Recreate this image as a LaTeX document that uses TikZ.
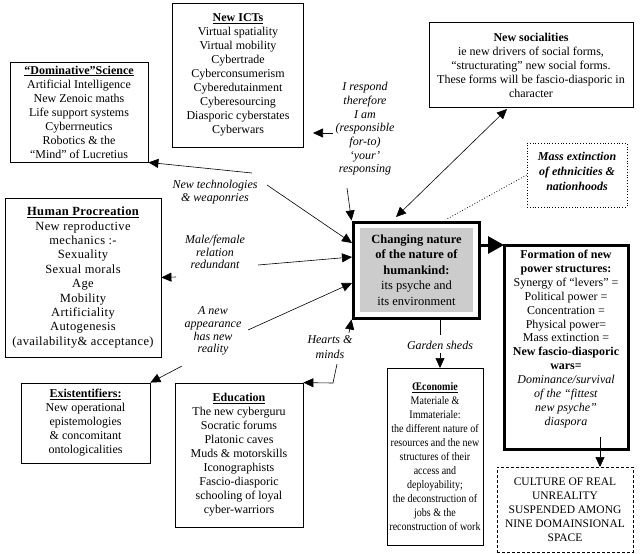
\documentclass[tikz,border=0pt]{standalone}
\usepackage{fontspec}
\setmainfont{Liberation Serif}
\newfontfamily\ecofont[FakeStretch=0.87]{Liberation Serif}
\newfontfamily\procfont[LetterSpace=3]{Liberation Serif}
\usetikzlibrary{arrows.meta}
\definecolor{cgray}{RGB}{204,204,204}
\begin{document}
\begin{tikzpicture}[x=1pt,y=-1pt,
  txt/.style={align=center, inner sep=0pt, font=\fontsize{12}{14}\selectfont},
  bx/.style={txt, draw, line width=0.8pt},
  heavy/.style={draw, line width=3pt, inner sep=0pt},
  lbl/.style={align=center, inner sep=0pt, font=\fontsize{12}{12.5}\selectfont\itshape},
  arr/.style={line width=0.6pt, -{Triangle[length=10pt,width=9pt]}},
  darr/.style={line width=0.6pt, {Triangle[length=10pt,width=9pt]}-{Triangle[length=10pt,width=9pt]}},
  bigarr/.style={line width=3pt, -{Triangle[length=16pt,width=17pt]}},
]
\useasboundingbox (0,0) rectangle (640,554);
\fill[white] (0,0) rectangle (640,554);

% boxes
\node[bx, minimum width=138, minimum height=100] (dom) at (79,112) {\textbf{\underline{“Dominative”Science}}\\Artificial Intelligence\\New Zenoic maths\\Life support systems\\Cyberrneutics\\Robotics \& the\\“Mind” of Lucretius};

\node[bx, minimum width=131, minimum height=144] (ict) at (238,75) {\textbf{\underline{New ICTs}}\\Virtual spatiality\\Virtual mobility\\Cybertrade\\Cyberconsumerism\\Cyberedutainment\\Cyberesourcing\\Diasporic cyberstates\\Cyberwars};

\node[bx, minimum width=204, minimum height=85] (soc) at (531,65) {\textbf{New socialities}\\ie new drivers of social forms,\\“structurating” new social forms.\\These forms will be fascio-diasporic in\\character};

\node[draw, dotted, line width=0.8pt, minimum width=100, minimum height=64, inner sep=0pt] (mass) at (577,175) {};
\node[lbl, font=\fontsize{12}{15}\selectfont\bfseries\itshape] (masstxt) at (577,171) {Mass extinction\\of ethnicities \&\\nationhoods};

\node[bx, minimum width=156, minimum height=159, font=\procfont\fontsize{12.5}{14.4}\selectfont] (proc) at (83,277.5) {\textbf{\underline{Human Procreation}}\\New reproductive\\mechanics :-\\Sexuality\\Sexual morals\\Age\\Mobility\\Artificiality\\Autogenesis\\(availability\& acceptance)};

\node[heavy, minimum width=126, minimum height=96] (ctr) at (416,270) {};
\node[fill=cgray, minimum width=113, minimum height=84, inner sep=0pt, align=center, font=\fontsize{12.5}{15.5}\selectfont] (ctrtxt) at (416.5,270) {\textbf{Changing nature}\\\textbf{of the nature of}\\\textbf{humankind:}\\its psyche and\\its environment};

\node[heavy, minimum width=124, minimum height=204] (form) at (566,347) {};
\node[txt, font=\fontsize{12}{13.9}\selectfont] (formtxt) at (566,339) {\textbf{Formation of new}\\\textbf{power structures:}\\Synergy of “levers” =\\Political power =\\Concentration =\\Physical power=\\Mass extinction =\\\textbf{New fascio-diasporic}\\\textbf{wars=}\\\textit{Dominance/survival}\\\textit{of the “fittest}\\\textit{new psyche”}\\\textit{diaspora}};

\node[bx, minimum width=129, minimum height=80] (exi) at (85.5,423) {\textbf{\underline{Existentifiers:}}\\New operational\\epistemologies\\\& concomitant\\ontologicalities};

\node[bx, minimum width=128, minimum height=144] (edu) at (239,455) {\textbf{\underline{Education}}\\The new cyberguru\\Socratic forums\\Platonic caves\\Muds \& motorskills\\Iconographists\\Fascio-diasporic\\schooling of loyal\\cyber-warriors};

\node[bx, minimum width=96, minimum height=177, font=\ecofont\fontsize{11.5}{14}\selectfont] (eco) at (435,457) {\textbf{\underline{Œconomie}}\\Materiale \&\\Immateriale:\\the different nature of\\resources and the new\\structures of their\\access and\\deployability;\\the deconstruction of\\jobs \& the\\reconstruction of work};

\node[bx, dash pattern=on 3pt off 2pt, minimum width=136, minimum height=85, font=\fontsize{11.5}{14}\selectfont] (cul) at (565,509.5) {CULTURE OF REAL\\UNREALITY\\SUSPENDED AMONG\\NINE DOMAINSIONAL\\SPACE};

% labels
\node[lbl] (tech) at (215,192) {New technologies\\\& weaponries};
\node[lbl] (male) at (215,252) {Male/female\\relation\\redundant};
\node[lbl, font=\fontsize{12}{12.7}\selectfont\itshape] (app) at (213,331) {A new\\appearance\\has new\\reality};
\node[lbl, font=\fontsize{12}{15}\selectfont\itshape] (heart) at (330,347.5) {Hearts \&\\minds};
\node[lbl, font=\fontsize{12}{13.7}\selectfont\itshape] (resp) at (365,129) {I respond\\therefore\\I am\\(responsible\\for-to)\\‘your’\\responsing};
\node[lbl] (garden) at (440,345) {Garden sheds};

% coordinates
\coordinate (techA) at (252,173);
\coordinate (techB) at (267,185);
\coordinate (c1) at (352,243);
\coordinate (maleA) at (176,277);
\coordinate (maleB) at (258,265);
\coordinate (c2) at (352,257);
\coordinate (appB) at (248,330);
\coordinate (c3) at (352,283);
\coordinate (appA) at (182,366);
\coordinate (heartA) at (349,333);
\coordinate (hB) at (337,364);
\coordinate (hC) at (333,383);
\coordinate (rA) at (347,188);
\coordinate (rL) at (333,133);
\coordinate (rT) at (313,133);
\coordinate (s1) at (507,109);
\coordinate (c6) at (396,217);
\coordinate (c7) at (447,219);
\coordinate (c8) at (479,245);
\coordinate (f1) at (504,245);
\coordinate (g0) at (440,318);
\coordinate (g1) at (440,335);
\coordinate (g2) at (440,353);
\coordinate (g3) at (440,368);
\coordinate (f2) at (600,437);
\coordinate (f3) at (600,467);

% connectors
\draw[arr] (techA) -- (dom.south east);
\draw[arr] (techB) -- (c1);
\draw[arr] (maleA) -- (proc.east);
\draw[arr] (maleB) -- (c2);
\draw[arr] (appB) -- (c3);
\draw[arr] (appA) -- (exi.north east);
\draw[arr] (heartA) -- (ctr.south west);
\draw[arr] (hB) -- (hC) -- (edu.north east);
\draw[arr] (rA) -- (ctr.north west);
\draw[arr] (rL) -- (rT);
\draw[darr] (s1) -- (c6);
\draw[dotted, line width=0.8pt] (mass.west) -- (c7);
\draw[bigarr] (c8) -- (f1);
\draw[line width=0.6pt] (g0) -- (g1);
\draw[arr] (g2) -- (g3);
\draw[arr] (f2) -- (f3);
\end{tikzpicture}
\end{document}
